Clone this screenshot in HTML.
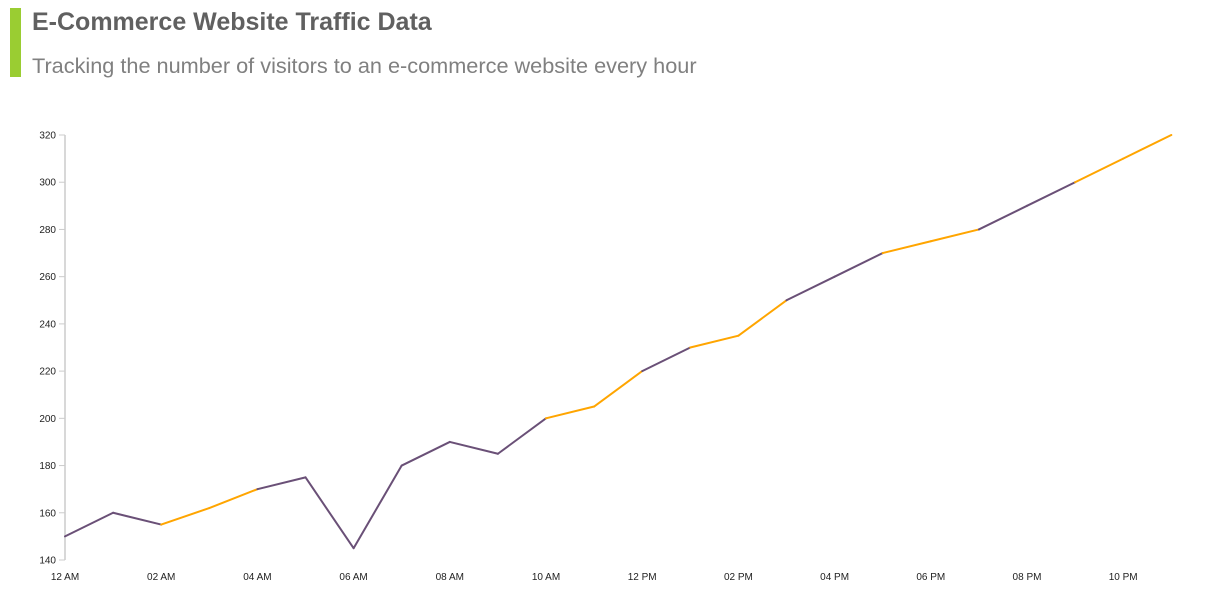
<!DOCTYPE html>
<html><head><meta charset="utf-8"><style>
body{margin:0;background:#fff;width:1209px;height:615px;overflow:hidden;font-family:"Liberation Sans",sans-serif}
.bar{position:absolute;left:10px;top:8px;width:11px;height:69px;background:#9acd32}
.t{position:absolute;left:32px;top:8px;font-size:25px;font-weight:bold;color:#606060}
.s{position:absolute;left:32px;top:53px;font-size:21.7px;color:#808080}
svg{position:absolute;left:0;top:0}
</style></head><body>
<div class="bar"></div>
<div class="t">E-Commerce Website Traffic Data</div>
<div class="s">Tracking the number of visitors to an e-commerce website every hour</div>
<svg id="c" width="1209" height="615" font-family="Liberation Sans, sans-serif" font-size="10" fill="#222"></svg>
<script>
const d=[150,160,155,162,170,175,145,180,190,185,200,205,220,230,235,250,260,270,275,280,290,300,310,320];
const col="ppooppppppoopoopp"+"ooppoo";
const X=h=>65+48.1*h, Y=v=>560-(v-140)*425/180;
let s='<line x1="65" y1="135" x2="65" y2="560" stroke="#ccc" stroke-width="1.5"/>';
for(let v=140;v<=320;v+=20){const y=Y(v);s+=`<line x1="59" x2="65" y1="${y}" y2="${y}" stroke="#ccc"/><text x="56" y="${y+3.5}" text-anchor="end">${v}</text>`;}
const lb=["12 AM","02 AM","04 AM","06 AM","08 AM","10 AM","12 PM","02 PM","04 PM","06 PM","08 PM","10 PM"];
lb.forEach((l,i)=>{s+=`<text x="${X(2*i)}" y="580" text-anchor="middle">${l}</text>`;});
for(let i=0;i<23;i++){s+=`<line x1="${X(i)}" y1="${Y(d[i])}" x2="${X(i+1)}" y2="${Y(d[i+1])}" stroke="${col[i]=='p'?'#6a5077':'#ffa500'}" stroke-width="2" stroke-linecap="round"/>`;}
document.getElementById('c').innerHTML=s;
</script>
</body></html>
